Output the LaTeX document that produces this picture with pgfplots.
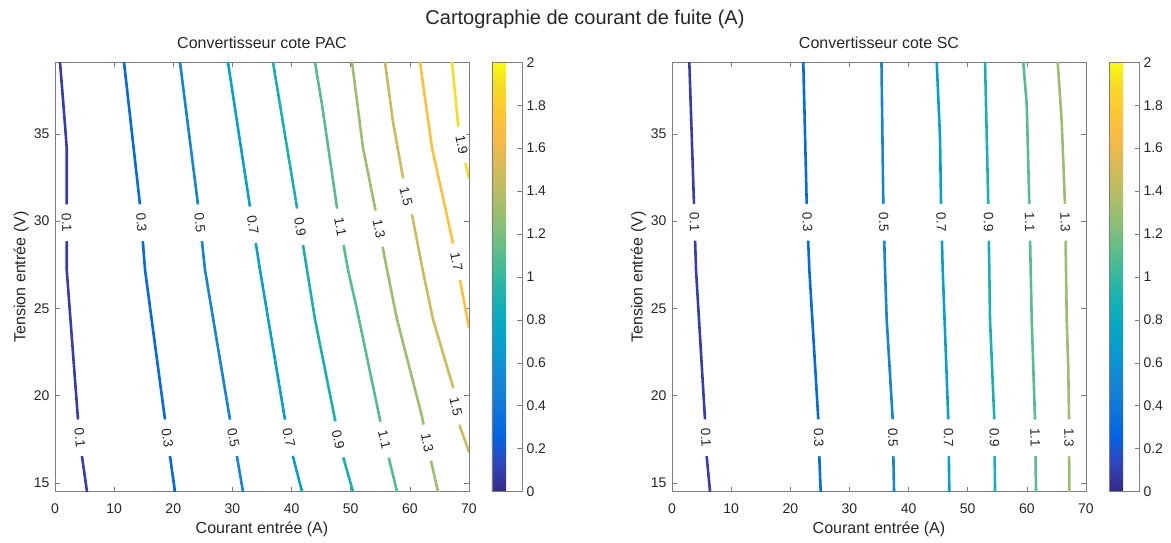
\documentclass[border=0pt]{standalone}
\usepackage{fontspec}
\setmainfont{Liberation Sans}
\usepackage{pgfplots}
\pgfplotsset{compat=1.18}
\definecolor{txt}{RGB}{38,38,38}
\definecolor{axc}{RGB}{125,125,125}
\definecolor{c01}{rgb}{0.2081,0.2386,0.6771}
\definecolor{c03}{rgb}{0.011,0.417,0.881}
\definecolor{c05}{rgb}{0.079,0.516,0.833}
\definecolor{c07}{rgb}{0.0239,0.6287,0.8038}
\definecolor{c09}{rgb}{0.094,0.696,0.699}
\definecolor{c11}{rgb}{0.332,0.741,0.556}
\definecolor{c13}{rgb}{0.6099,0.7473,0.4337}
\definecolor{c15}{rgb}{0.810,0.733,0.353}
\definecolor{c17}{rgb}{0.996,0.756,0.227}
\definecolor{c19}{rgb}{0.9626,0.8705,0.1309}
\tikzset{lab/.style={fill=white, inner xsep=9pt, inner ysep=1.5pt, text=txt, font=\fontsize{13.5}{13.5}\selectfont}}
\pgfplotsset{
  /pgf/number format/assume math mode=true,
  colormap={parula}{
    rgb(0pt)=(0.2081,0.1663,0.5292)
    rgb(4pt)=(0.1959,0.2645,0.7279)
    rgb(8pt)=(0.0117,0.3875,0.8820)
    rgb(12pt)=(0.0498,0.4586,0.8641)
    rgb(16pt)=(0.0793,0.5200,0.8312)
    rgb(20pt)=(0.0343,0.5966,0.8199)
    rgb(24pt)=(0.0228,0.6535,0.7768)
    rgb(28pt)=(0.0843,0.6928,0.7062)
    rgb(32pt)=(0.2178,0.7250,0.6193)
    rgb(36pt)=(0.3953,0.7459,0.5244)
    rgb(40pt)=(0.5709,0.7485,0.4494)
    rgb(44pt)=(0.7184,0.7411,0.3905)
    rgb(48pt)=(0.8507,0.7299,0.3360)
    rgb(52pt)=(0.9739,0.7314,0.2666)
    rgb(56pt)=(0.9955,0.7861,0.1967)
    rgb(60pt)=(0.9626,0.8705,0.1309)
    rgb(63pt)=(0.9763,0.9831,0.0538)
  },
  myax/.style={
    scale only axis, width=414pt, height=429.4pt,
    anchor=south west,
    xmin=0, xmax=70, ymin=14.5, ymax=39.1,
    xtick={0,10,20,30,40,50,60,70}, ytick={15,20,25,30,35},
    xtick pos=both, ytick pos=both,
    xticklabel pos=lower, yticklabel pos=left,
    tick align=inside, major tick length=4.5pt,
    axis line style={draw=axc, line width=0.7pt},
    every tick/.style={draw=axc, line width=0.7pt},
    tick label style={font=\fontsize{14}{14}\selectfont, text=txt},
    xticklabel style={anchor=base, yshift=-22pt},
    yticklabel style={anchor=east, xshift=-2pt},
    label style={font=\fontsize{16}{16}\selectfont, text=txt},
    xlabel style={at={([yshift=-42pt]axis description cs:0.5,0)}, anchor=base},
    ylabel style={at={([xshift=-29.5pt]axis description cs:0,0.5)}, anchor=base},
    xlabel={Courant entrée (A)},
    ylabel={Tension entrée (V)},
    title style={at={([yshift=8pt]axis description cs:0.5,1)}, anchor=base, font=\fontsize{16}{16}\selectfont, text=txt},
    colormap name=parula,
    colorbar,
    point meta min=0, point meta max=2,
    colorbar shift/.style={},
    colorbar style={
      at={(parent axis.north east)}, anchor=north west, xshift=23pt,
      scale only axis, width=30pt,
      ytick={0,0.2,0.4,0.6,0.8,1,1.2,1.4,1.6,1.8,2},
      ytick pos=right, yticklabel pos=right,
      tick align=inside, major tick length=4.5pt,
      axis line style={draw=axc, line width=0.7pt},
      every tick/.style={draw=axc, line width=0.7pt},
      yticklabel style={font=\fontsize{14}{14}\selectfont, text=txt, anchor=west, xshift=1pt},
    },
    every axis plot/.append style={line width=2.6pt, line join=round, line cap=round},
  },
}
\begin{document}
\begin{tikzpicture}
\useasboundingbox (0,0) rectangle (1171pt,542pt);
\node[anchor=base, font=\fontsize{20}{20}\selectfont, text=txt] at (585pt,517pt) {Cartographie de courant de fuite (A)};
% ---------------- PAC
\begin{axis}[myax, at={(55pt,50.3pt)}, title={Convertisseur cote PAC}]
\addplot[c01] coordinates {(0.85,39.1) (1.69,35.52) (1.98,34.20) (1.98,30.94) (1.98,27.22) (3.89,18.63) (4.57,16.51) (5.41,14.5)};
\addplot[c03] coordinates {(11.67,39.1) (14.37,30.94) (15.22,27.22) (18.60,18.63) (19.45,16.51) (20.29,14.5)};
\addplot[c05] coordinates {(21.14,39.1) (24.18,30.94) (25.36,27.22) (29.59,18.63) (30.77,16.51) (31.79,14.5)};
\addplot[c07] coordinates {(29.25,39.1) (32.97,30.82) (34.66,27.22) (38.89,18.63) (40.24,16.51) (41.77,14.5)};
\addplot[c09] coordinates {(36.86,39.1) (40.92,30.77) (42.61,27.22) (43.96,24.37) (47.35,18.63) (48.70,16.51) (50.39,14.5)};
\addplot[c11] coordinates {(43.96,39.1) (45.15,36.67) (47.68,30.77) (49.54,27.22) (51.06,24.94) (54.95,18.63) (56.31,16.62) (57.83,14.5)};
\addplot[c13] coordinates {(50.22,39.1) (52.08,34.20) (54.11,30.77) (56.14,27.22) (57.83,24.37) (62.06,18.80) (63.41,16.51) (64.76,14.5)};
\addplot[c15] coordinates {(55.80,39.1) (57.15,35.69) (58.84,32.49) (60.37,30.37) (62.23,27.10) (63.92,24.37) (67.35,20.44) (68.48,18.22) (70,16.79)};
\addplot[c17] coordinates {(61.72,39.1) (63.75,34.20) (67.35,28.65) (68.48,26.64) (70,23.89)};
\addplot[c19] coordinates {(67.13,39.1) (68.19,35.42) (69.33,33.42) (70,32.49)};
\node[lab, rotate=-88] at (axis cs:1.98,29.91) {0.1};
\node[lab, rotate=-85.6] at (axis cs:14.61,29.91) {0.3};
\node[lab, rotate=-84] at (axis cs:24.50,29.91) {0.5};
\node[lab, rotate=-81] at (axis cs:33.46,29.79) {0.7};
\node[lab, rotate=-81] at (axis cs:41.44,29.68) {0.9};
\node[lab, rotate=-80] at (axis cs:48.26,29.68) {1.1};
\node[lab, rotate=-79] at (axis cs:54.80,29.57) {1.3};
\node[lab, rotate=-76] at (axis cs:59.35,31.40) {1.5};
\node[lab, rotate=-79] at (axis cs:67.90,27.67) {1.7};
\node[lab, rotate=-79] at (axis cs:68.79,34.38) {1.9};
\node[lab, rotate=-84] at (axis cs:4.21,17.59) {0.1};
\node[lab, rotate=-82] at (axis cs:19.00,17.59) {0.3};
\node[lab, rotate=-79] at (axis cs:30.17,17.59) {0.5};
\node[lab, rotate=-78] at (axis cs:39.55,17.59) {0.7};
\node[lab, rotate=-78] at (axis cs:47.89,17.48) {0.9};
\node[lab, rotate=-77] at (axis cs:55.73,17.48) {1.1};
\node[lab, rotate=-78.7] at (axis cs:62.94,17.31) {1.3};
\node[lab, rotate=-77] at (axis cs:67.80,19.38) {1.5};
\end{axis}
% ---------------- SC
\begin{axis}[myax, at={(672pt,50.3pt)}, title={Convertisseur cote SC}]
\addplot[c01] coordinates {(2.93,39.1) (3.72,30.94) (4.06,27.22) (5.58,18.63) (5.87,16.51) (6.43,14.5)};
\addplot[c03] coordinates {(22.20,39.1) (22.78,30.94) (23.22,27.22) (24.74,18.63) (24.91,16.51) (25.14,14.5)};
\addplot[c05] coordinates {(35.42,39.1) (35.73,30.94) (36.02,27.22) (36.30,24.37) (37.32,18.63) (37.54,14.5)};
\addplot[c07] coordinates {(44.76,39.1) (45.32,34.78) (45.49,30.94) (45.77,27.22) (46.72,18.63) (46.89,14.5)};
\addplot[c09] coordinates {(52.93,39.1) (53.48,30.94) (53.65,27.22) (53.77,24.37) (54.50,18.63) (54.62,14.5)};
\addplot[c11] coordinates {(59.40,39.1) (59.98,36.67) (60.42,30.94) (60.65,27.22) (60.82,24.37) (61.38,18.63) (61.55,14.5)};
\addplot[c13] coordinates {(65.22,39.1) (65.89,35.71) (66.45,30.94) (66.62,27.22) (66.74,24.37) (67.01,21.5) (67.13,18.63) (67.18,14.5)};
\node[lab, rotate=-88] at (axis cs:3.80,29.94) {0.1};
\node[lab, rotate=-88] at (axis cs:22.89,29.94) {0.3};
\node[lab, rotate=-88.5] at (axis cs:35.81,29.94) {0.5};
\node[lab, rotate=-88.5] at (axis cs:45.53,29.94) {0.7};
\node[lab, rotate=-89] at (axis cs:53.53,29.94) {0.9};
\node[lab, rotate=-88.8] at (axis cs:60.48,29.94) {1.1};
\node[lab, rotate=-89] at (axis cs:66.50,29.94) {1.3};
\node[lab, rotate=-87.4] at (axis cs:5.72,17.59) {0.1};
\node[lab, rotate=-88.4] at (axis cs:24.82,17.59) {0.3};
\node[lab, rotate=-89] at (axis cs:37.37,17.59) {0.5};
\node[lab, rotate=-89.2] at (axis cs:46.77,17.59) {0.7};
\node[lab, rotate=-89.5] at (axis cs:54.52,17.59) {0.9};
\node[lab, rotate=-89.3] at (axis cs:61.41,17.59) {1.1};
\node[lab, rotate=-89.8] at (axis cs:67.13,17.59) {1.3};
\end{axis}
\end{tikzpicture}
\end{document}
